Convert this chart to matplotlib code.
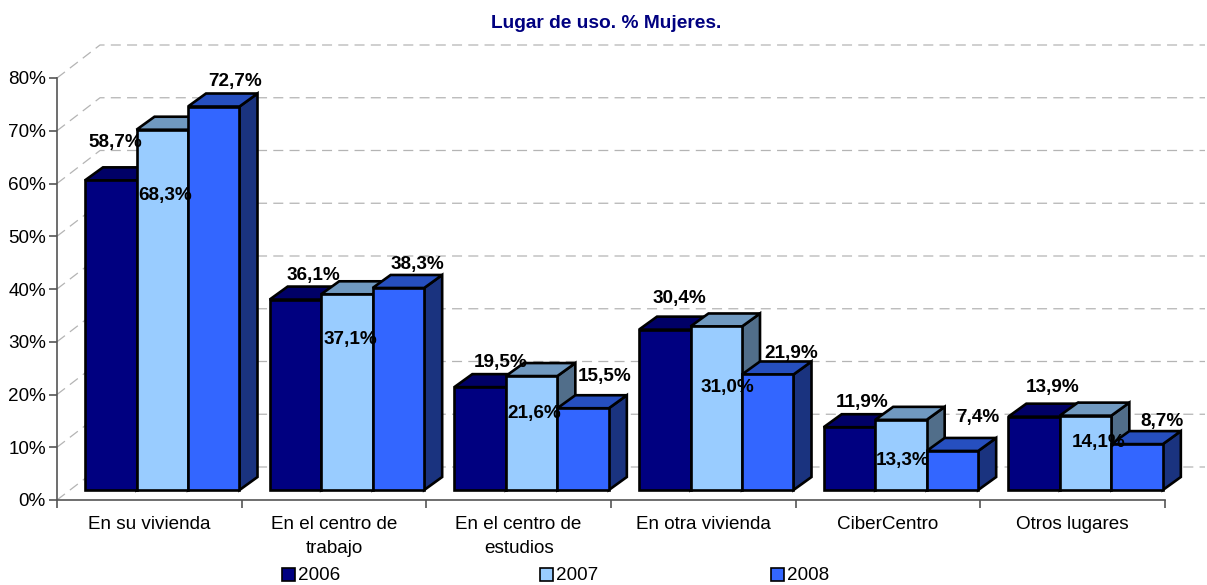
import matplotlib
matplotlib.use("Agg")
import matplotlib.pyplot as plt
from matplotlib.patches import Polygon, Rectangle

plt.rcParams["font.family"] = ["Liberation Sans", "DejaVu Sans"]

# data
categories = ["En su vivienda", "En el centro de\ntrabajo", "En el centro de\nestudios",
              "En otra vivienda", "CiberCentro", "Otros lugares"]
years = ["2006", "2007", "2008"]
values_2006 = [58.7, 36.1, 19.5, 30.4, 11.9, 13.9]
values_2007 = [68.3, 37.1, 21.6, 31.0, 13.3, 14.1]
values_2008 = [72.7, 38.3, 15.5, 21.9, 7.4, 8.7]
y_ticks = [0, 10, 20, 30, 40, 50, 60, 70, 80]

# label nudges in pixels, Excel put them more or less anywhere
nudge_2006 = [(5, 38), (18, 24), (21, 25), (15, 31), (13, 25), (19, 29)]
nudge_2007 = [(3, -66), (3, -45), (3, -37), (11, -61), (2, -41), (13, -27)]
nudge_2008 = [(21, 25), (19, 23), (22, 32), (24, 21), (25, 33), (25, 23)]

# colours: front, top, side
colors_2006 = ("#000080", "#000066", "#00004D")
colors_2007 = ("#99CCFF", "#7099C0", "#516E8A")
colors_2008 = ("#3366FF", "#264FBF", "#1A337F")

W, H = 1207, 585
fig = plt.figure(figsize=(W / 100, H / 100), dpi=100)
ax = fig.add_axes([57 / W, (H - 500) / H, (1165 - 57) / W, 422 / H])
ax.set_xlim(0, 6)
ax.set_ylim(0, 80)

# pixel sizes converted to data units
PX_X = 6 / (1165 - 57)
PX_Y = 80 / 422
wall_dx, wall_dy = 43 * PX_X, 33 * PX_Y
bar_dx, bar_dy = 18 * PX_X, 13 * PX_Y
base_dx, base_dy = 13 * PX_X, 10 * PX_Y
start = 28 * PX_X
bar_w = 51.5 * PX_X
EDGE = 1.9

# walls
for t in y_ticks:
    ax.plot([0, wall_dx, 6 + wall_dx - 3 * PX_X], [t, t + wall_dy, t + wall_dy],
            color="#B4B4B4", lw=0.9, ls=(0, (8, 5)), clip_on=False, zorder=1)

# bars
series = [(values_2006, colors_2006, nudge_2006),
          (values_2007, colors_2007, nudge_2007),
          (values_2008, colors_2008, nudge_2008)]
for c in range(len(categories)):
    for s, (vals, cols, nudges) in enumerate(series):
        x0 = c + start + s * bar_w
        x1 = x0 + bar_w
        top = vals[c] + base_dy
        z = 3 + c + s * 0.1
        ax.add_patch(Polygon([(x1, base_dy), (x1 + bar_dx, base_dy + bar_dy), (x1 + bar_dx, top + bar_dy), (x1, top)],
                             fc=cols[2], ec="black", lw=EDGE, joinstyle="miter", clip_on=False, zorder=z))
        ax.add_patch(Polygon([(x0, top), (x0 + bar_dx, top + bar_dy), (x1 + bar_dx, top + bar_dy), (x1, top)],
                             fc=cols[1], ec="black", lw=EDGE, joinstyle="miter", clip_on=False, zorder=z))
        ax.add_patch(Rectangle((x0, base_dy), bar_w, vals[c], fc=cols[0], ec="black", lw=EDGE,
                               joinstyle="miter", clip_on=False, zorder=z + 0.01))
        ax.annotate(f"{vals[c]:.1f}%".replace(".", ","), (x0 + bar_w / 2, top), xytext=nudges[c],
                    textcoords="offset pixels", ha="center", va="center", fontsize=13.6,
                    fontweight="bold", color="black", zorder=20, annotation_clip=False)

# axes
for side in ["top", "right"]:
    ax.spines[side].set_visible(False)
for side in ["left", "bottom"]:
    ax.spines[side].set_color("#555555")
    ax.spines[side].set_linewidth(1.2)
ax.patch.set_alpha(0)
ax.set_yticks(y_ticks)
ax.set_yticklabels([f"{t}%" for t in y_ticks], fontsize=13.6)
ax.set_xticks(range(7))
ax.set_xticklabels([])
ax.set_xticks([i + 0.5 for i in range(6)], minor=True)
ax.set_xticklabels(categories, minor=True, fontsize=13.6, linespacing=1.55)
ax.tick_params(axis="y", length=5.5, width=1.2, color="#555555", pad=2.5)
ax.tick_params(axis="x", which="major", length=5.5, width=1.2, color="#555555")
ax.tick_params(axis="x", which="minor", length=0, pad=11.5)

fig.text(606 / W, 1 - 23 / H, "Lugar de uso. % Mujeres.", ha="center", va="center",
         fontsize=13.8, fontweight="bold", color="#000080")

# legend, spacing is uneven in the original
legend_x = [282, 540, 771]
for lx, yr, (_, cols, _) in zip(legend_x, years, series):
    fig.add_artist(Rectangle((lx / W, 1 - 581 / H), 13 / W, 13 / H, transform=fig.transFigure,
                             fc=cols[0], ec="black", lw=1.2))
    fig.text((lx + 16) / W, 1 - 575 / H, yr, ha="left", va="center", fontsize=13.6)

fig.savefig("out.png", dpi=100)
